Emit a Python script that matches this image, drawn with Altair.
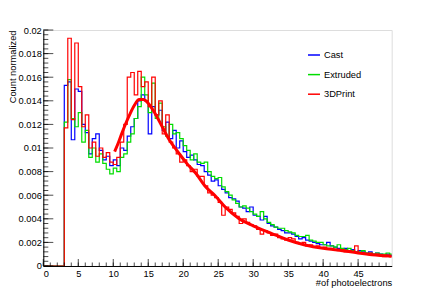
import altair as alt
import pandas as pd

# ---------------- data ----------------
x_start = 3.0
bin_width = 0.5

cast = [
    .0153, .0156, .0107, .0150, .0148, .0120, .0113, .0095, .0108, .0112,
    .0098, .0090, .0093, .0085, .0090, .0085, .0100, .0098, .0110, .0118,
    .0125, .0140, .0145, .0140, .0112, .0135, .0128, .0132, .0115, .0122,
    .0108, .0115, .0100, .0106, .0097, .0092, .0094, .0090, .0086, .0085,
    .0080, .0077, .0072, .0073, .0068, .0065, .0062, .0058, .0057, .0055,
    .0050, .0049, .0046, .0050, .0043, .0042, .0039, .0042, .0036, .0034,
    .0033, .0031, .0030, .0028, .0028, .0027, .0025, .0023, .0024, .0022,
    .0021, .0020, .0019, .0018, .0018, .0020, .0017, .0016, .0015, .0014,
    .0015, .0013, .0014, .0012, .0013, .0012, .0011, .0012, .0010, .0011,
    .0010, .0009, .0010, .0009,
]
extruded = [
    .0122, .0158, .0125, .0118, .0130, .0105, .0115, .0092, .0100, .0088,
    .0095, .0087, .0082, .0078, .0083, .0080, .0092, .0095, .0105, .0112,
    .0125, .0135, .0160, .0145, .0130, .0155, .0125, .0138, .0118, .0110,
    .0120, .0112, .0113, .0108, .0102, .0098, .0090, .0095, .0088, .0087,
    .0088, .0080, .0076, .0074, .0075, .0067, .0063, .0060, .0056, .0053,
    .0050, .0051, .0049, .0046, .0044, .0042, .0046, .0040, .0037, .0035,
    .0033, .0032, .0032, .0030, .0029, .0028, .0026, .0025, .0025, .0026,
    .0022, .0021, .0020, .0020, .0018, .0017, .0017, .0016, .0018, .0015,
    .0014, .0015, .0013, .0012, .0012, .0013, .0011, .0011, .0010, .0011,
    .0010, .0010, .0011, .0010,
]
printed = [
    .0117, .0193, .0124, .0189, .0152, .0118, .0128, .0100, .0105, .0093,
    .0100, .0092, .0096, .0088, .0086, .0092, .0105, .0120, .0160, .0164,
    .0145, .0165, .0152, .0156, .0135, .0160, .0128, .0140, .0112, .0128,
    .0105, .0100, .0095, .0088, .0090, .0085, .0080, .0082, .0076, .0076,
    .0068, .0062, .0060, .0058, .0054, .0043, .0050, .0048, .0045, .0042,
    .0036, .0040, .0037, .0035, .0034, .0031, .0027, .0030, .0028, .0026,
    .0027, .0024, .0023, .0022, .0024, .0023, .0020, .0019, .0020, .0017,
    .0018, .0016, .0017, .0015, .0016, .0014, .0015, .0014, .0013, .0014,
    .0012, .0013, .0012, .0017, .0011, .0011, .0010, .0011, .0009, .0010,
    .0009, .0008, .0009, .0008,
]

fit_x = [10.2, 10.7, 11.2, 11.8, 12.4, 13.0, 13.7, 14.3, 15.0, 16.0, 17.0, 18.0,
         19.4, 20.5, 21.8, 23.2, 24.5, 26.0, 27.9, 30.0, 32.6, 35.0, 37.4, 40.0,
         42.1, 45.0, 47.0, 49.8]
fit_y = [.0097, .0104, .0112, .0121, .0129, .0136, .0141, .0141, .0138, .0129, .0118, .0107,
         .00955, .0087, .00786, .00672, .0060, .0050, .00404, .0034, .00277, .0022, .00178, .0015,
         .00136, .0011, .00095, .00082]

series_names = ["Cast", "Extruded", "3DPrint"]
series_colors = ["#0000ff", "#00dd00", "#ff0000"]

x_ticks_major = [0, 5, 10, 15, 20, 25, 30, 35, 40, 45]
x_ticks_minor = list(range(0, 50))
y_ticks_major = [0, 0.002, 0.004, 0.006, 0.008, 0.01, 0.012, 0.014, 0.016, 0.018, 0.02]
y_ticks_minor = [round(i * 0.0004, 4) for i in range(0, 51)]

X_MAX = 49.8
Y_MAX = 0.02
W, H = 348.4, 236
FONT = "Liberation Sans"
FS = 9.3

# ---------------- build tables ----------------
def hist_frame(name, vals):
    n0 = int(round(x_start / bin_width))
    xs = [i * bin_width for i in range(n0)] + [x_start + i * bin_width for i in range(len(vals))]
    ys = [0.0] * n0 + list(vals)
    xs.append(xs[-1] + bin_width)
    ys.append(vals[-1])
    return pd.DataFrame({"x": xs, "y": ys, "series": name})

frames = {n: hist_frame(n, v) for n, v in zip(series_names, [cast, extruded, printed])}
fit_df = pd.DataFrame({"x": fit_x, "y": fit_y})

xscale = alt.Scale(domain=[0, X_MAX], nice=False, zero=False)
yscale = alt.Scale(domain=[0, Y_MAX], nice=False)
cscale = alt.Scale(domain=series_names, range=series_colors)

xaxis = alt.Axis(values=x_ticks_major, ticks=False, grid=False, domainColor="black",
                 labelFont=FONT, labelFontSize=FS, labelColor="black", labelPadding=4,
                 title="#of photoelectrons", titleFont=FONT, titleFontSize=FS,
                 titleFontWeight="normal", titleColor="black",
                 titleX=W, titleY=20, titleAlign="right", titleBaseline="alphabetic")
yaxis = alt.Axis(values=y_ticks_major, ticks=False, grid=False, domainColor="black",
                 format="~g", labelFont=FONT, labelFontSize=FS, labelColor="black",
                 labelPadding=2,
                 title="Count normalized", titleFont=FONT, titleFontSize=FS,
                 titleFontWeight="normal", titleColor="black",
                 titleX=-30.6, titleY=0, titleAngle=270, titleAlign="right",
                 titleBaseline="middle")

legend = alt.Legend(title=None, orient="none", legendX=263.7, legendY=18,
                    symbolType="stroke", symbolSize=144, symbolStrokeWidth=1.5,
                    labelFont=FONT, labelFontSize=FS, labelColor="black",
                    labelOffset=3, rowPadding=6.6)

X = alt.X("x:Q", scale=xscale, axis=xaxis, title="#of photoelectrons")
Y = alt.Y("y:Q", scale=yscale, axis=yaxis, title="Count normalized")

layers = []
for n in series_names:
    layers.append(
        alt.Chart(frames[n]).mark_line(interpolate="step-after", strokeWidth=1.2, clip=True).encode(
            x=X, y=Y,
            color=alt.Color("series:N", scale=cscale, legend=legend),
        )
    )

fit = alt.Chart(fit_df).mark_line(interpolate="monotone", strokeWidth=3, clip=True,
                                  color="#ff0000").encode(x=X, y=Y)

xmaj = alt.Chart(pd.DataFrame({"x": x_ticks_major})).mark_tick(
    color="black", thickness=1, size=7).encode(x=X, y=alt.value(H - 3.5))
xmin = alt.Chart(pd.DataFrame({"x": x_ticks_minor})).mark_tick(
    color="black", thickness=1, size=3.5).encode(x=X, y=alt.value(H - 1.75))
ymaj = alt.Chart(pd.DataFrame({"y": y_ticks_major})).mark_tick(
    color="black", thickness=1, size=10).encode(y=Y, x=alt.value(5))
ymin = alt.Chart(pd.DataFrame({"y": y_ticks_minor})).mark_tick(
    color="black", thickness=1, size=5).encode(y=Y, x=alt.value(2.5))

chart = alt.layer(*layers, fit, xmaj, xmin, ymaj, ymin).properties(
    width=W, height=H,
    autosize=alt.AutoSizeParams(type="none"),
    padding={"left": 35.3, "top": 22, "right": 20, "bottom": 27},
).configure_view(stroke="black", strokeWidth=1).configure(background="white")

chart.save("out.html", embed_options={"renderer": "svg", "actions": False})
